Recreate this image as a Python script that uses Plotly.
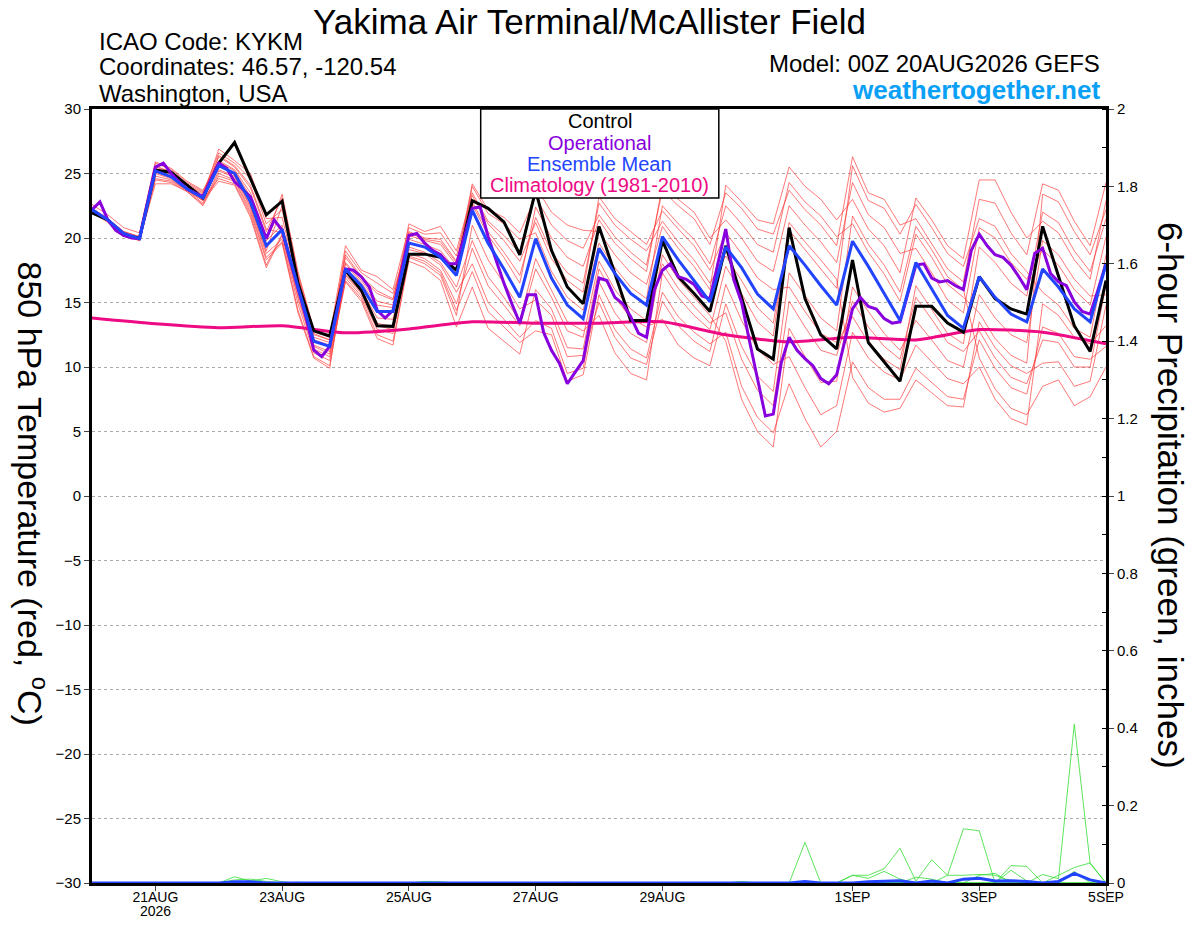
import pandas as pd
import plotly.graph_objects as go

# ---- data ----
# 6-hourly GEFS times, 3-hourly operational run, daily climatology
times_6h = pd.date_range("2026-08-20 00:00", "2026-09-05 00:00", freq="6h")
times_3h = pd.date_range("2026-08-20 00:00", "2026-09-05 00:00", freq="3h")
times_day = pd.date_range("2026-08-20", "2026-09-05", freq="D")

control = [21.95, 21.4, 20.2, 20.0, 25.25, 25.1, 24.1, 23.1, 25.8, 27.4, 24.6, 21.8, 22.85,
           16.5, 12.8, 12.4, 17.5, 15.95, 13.2, 13.15, 18.75, 18.75, 18.5, 17.5, 22.9, 22.3,
           21.25, 18.7, 23.7, 19.05, 16.2, 14.9, 20.9, 17.25, 13.6, 13.6, 19.8, 17.0, 15.7,
           14.3, 19.4, 15.4, 11.4, 10.6, 20.8, 15.3, 12.5, 11.4, 18.3, 11.9, 10.4, 8.9, 14.7,
           14.7, 13.4, 12.7, 17.0, 15.3, 14.5, 14.1, 20.9, 17.0, 13.2, 11.2, 16.7]

ens_mean = [22.2, 21.4, 20.35, 19.95, 25.2, 24.75, 23.8, 23.1, 25.6, 25.0, 22.8, 19.4, 20.65,
            16.2, 12.0, 11.6, 17.6, 16.3, 14.3, 14.3, 19.6, 19.3, 18.5, 17.1, 22.15, 19.6,
            17.6, 15.4, 19.95, 16.9, 14.8, 13.75, 19.2, 17.25, 15.7, 14.8, 20.1, 18.3, 16.7,
            15.05, 19.3, 17.7, 15.65, 14.5, 19.4, 17.9, 16.3, 14.8, 19.75, 17.8, 15.7, 13.6,
            18.1, 16.1, 14.0, 13.0, 17.0, 15.4, 14.1, 13.5, 17.6, 16.2, 14.5, 13.5, 18.0]

operational = [22.2, 22.8, 21.4, 20.6, 20.2, 20.0, 19.95, 22.6, 25.5, 25.8,
               25.0, 24.35, 23.8, 23.5, 23.2, 24.5, 25.8, 25.4, 24.35, 23.8,
               23.2, 21.6, 19.95, 21.4, 20.6, 18.3, 16.0, 13.9, 11.3, 10.8,
               11.6, 14.6, 17.6, 17.5, 17.0, 16.2, 14.4, 13.8, 14.4, 17.2,
               20.2, 20.35, 19.6, 19.05, 18.7, 18.0, 18.0, 20.1, 22.3, 22.4,
               20.1, 18.3, 16.5, 14.9, 13.4, 15.6, 15.6, 12.7, 11.3, 10.3,
               8.7, 9.6, 10.5, 13.8, 16.9, 16.7, 15.4, 14.9, 13.9, 12.6,
               12.3, 16.0, 17.5, 18.0, 17.0, 16.8, 16.4, 15.5, 15.3, 18.0,
               20.7, 16.8, 15.0, 12.0, 9.1, 6.2, 6.35, 10.3, 12.3, 11.3,
               10.65, 10.1, 9.1, 8.7, 9.4, 11.95, 14.5, 15.4, 14.7, 14.5,
               13.75, 13.4, 13.5, 15.7, 17.9, 18.0, 16.9, 16.6, 16.7, 16.3,
               16.0, 19.05, 20.3, 19.4, 18.7, 18.5, 17.9, 17.0, 16.0, 18.8,
               19.2, 17.25, 16.6, 16.3, 15.05, 14.3, 14.1, 16.0, 18.0]

climatology = [13.8, 13.35, 13.05, 13.2, 12.65, 12.95, 13.5, 13.4, 13.4, 13.5, 12.5,
               11.95, 12.3, 12.1, 12.9, 12.7, 11.8]

# ensemble members (temperature, 6-hourly)
m01 = [22.3, 21.5, 20.5, 20.1, 25.6, 25.1, 24.2, 23.5, 26.6, 25.8, 24.6, 21.1, 22.2, 16.9, 12.5, 12.1,
       18.7, 17.0, 15.9, 15.3, 20.2, 19.8, 19.5, 17.9, 24.2, 22.2, 21.6, 20.4, 23.2, 21.0, 19.8, 19.2,
       21.8, 20.1, 18.9, 17.9, 23.7, 22.5, 21.5, 19.5, 23.5, 22.3, 20.7, 20.3, 23.7, 22.2, 21.0, 19.4,
       26.3, 23.5, 23.0, 21.0, 21.5, 19.6, 17.6, 16.6, 23.0, 22.7, 20.4, 18.7, 24.2, 23.7, 21.3, 19.4, 24.3]
m02 = [22.1, 21.3, 20.2, 19.8, 24.5, 24.3, 23.6, 22.6, 25.0, 24.5, 22.2, 18.5, 19.7, 14.4, 10.8, 10.1,
       17.2, 15.8, 13.4, 13.1, 18.6, 18.2, 17.3, 14.4, 17.4, 14.3, 13.1, 11.9, 12.8, 12.5, 8.9, 9.4,
       15.6, 12.9, 11.4, 10.7, 15.8, 13.9, 12.7, 11.8, 12.7, 8.5, 6.1, 4.9, 8.7, 6.0, 3.8, 5.0,
       10.4, 8.4, 7.5, 7.5, 9.9, 8.8, 7.7, 7.5, 12.1, 9.9, 8.4, 7.9, 13.1, 12.6, 10.8, 10.6, 11.6]
m03 = [22.2, 21.4, 20.4, 20.0, 25.4, 24.9, 23.9, 23.2, 26.0, 25.3, 23.5, 20.0, 23.4, 17.4, 12.9, 12.4,
       19.4, 17.5, 17.0, 16.0, 20.8, 20.3, 20.4, 18.6, 23.3, 21.1, 19.8, 18.2, 21.2, 18.4, 16.7, 15.8,
       23.2, 21.5, 20.5, 19.5, 22.1, 20.7, 19.4, 17.5, 20.4, 18.8, 16.9, 16.0, 16.2, 14.3, 12.6, 11.9,
       13.9, 11.9, 10.6, 9.8, 16.3, 14.5, 12.6, 11.8, 19.3, 18.1, 16.5, 15.5, 22.0, 21.2, 19.0, 17.4, 21.5]
m04 = [22.2, 21.4, 20.3, 19.9, 25.0, 24.6, 23.7, 22.9, 24.4, 24.1, 21.6, 17.7, 20.2, 15.3, 11.4, 10.8,
       16.7, 15.3, 12.5, 12.0, 18.2, 17.7, 16.7, 13.1, 16.2, 13.0, 12.0, 11.0, 16.0, 14.5, 11.5, 11.4,
       17.6, 15.4, 13.8, 13.1, 13.7, 11.7, 10.7, 10.1, 14.9, 11.6, 9.3, 8.1, 17.3, 15.5, 13.8, 12.8,
       21.7, 19.5, 17.9, 15.8, 20.9, 19.1, 17.0, 16.0, 10.7, 8.3, 6.8, 6.3, 8.5, 9.0, 7.0, 7.7, 10.0]
m05 = [22.6, 21.8, 20.8, 20.4, 25.9, 25.4, 24.4, 23.7, 25.9, 25.2, 23.2, 19.8, 21.0, 16.3, 12.1, 11.7,
       18.1, 16.7, 15.1, 14.8, 21.1, 20.5, 20.9, 19.0, 23.5, 21.3, 20.2, 18.8, 24.0, 22.0, 21.0, 20.6,
       20.5, 18.7, 17.3, 16.4, 20.9, 19.2, 17.8, 16.0, 24.1, 22.8, 21.4, 21.1, 25.5, 24.0, 23.0, 21.4,
       23.0, 20.7, 19.4, 17.3, 23.1, 21.4, 19.4, 18.4, 24.5, 24.5, 22.0, 20.0, 21.3, 20.4, 18.3, 16.8, 22.9]
m06 = [22.0, 21.2, 20.2, 19.8, 24.8, 24.5, 23.7, 22.9, 26.4, 25.6, 24.1, 20.7, 20.4, 15.8, 11.7, 11.2,
       17.1, 15.7, 13.2, 12.9, 19.3, 18.9, 18.1, 16.2, 19.8, 17.0, 15.4, 13.6, 18.4, 15.9, 13.5, 12.8,
       14.0, 11.1, 9.5, 9.0, 17.3, 15.4, 14.0, 12.9, 17.8, 15.7, 13.5, 12.4, 21.2, 19.7, 18.3, 16.8,
       9.2, 7.2, 6.5, 6.8, 9.0, 8.0, 7.0, 6.9, 13.5, 11.5, 10.1, 9.5, 10.3, 10.4, 8.5, 8.9, 14.8]
m07 = [22.3, 21.5, 20.4, 20.0, 25.8, 25.3, 24.3, 23.6, 25.3, 24.8, 22.5, 19.0, 22.5, 17.0, 12.6, 12.1,
       18.0, 16.5, 14.8, 14.6, 20.4, 19.9, 19.7, 18.1, 22.6, 20.2, 18.5, 16.5, 22.4, 20.0, 18.5, 17.8,
       21.4, 19.6, 18.4, 17.4, 24.1, 23.0, 22.0, 20.0, 21.4, 20.0, 18.2, 17.4, 22.5, 21.0, 19.7, 18.1,
       24.3, 21.8, 20.8, 18.8, 19.2, 17.3, 15.2, 14.2, 20.8, 20.0, 18.1, 16.8, 19.1, 17.9, 16.0, 14.8, 20.1]
m08 = [22.2, 21.4, 20.3, 19.9, 24.2, 24.2, 23.6, 22.5, 24.8, 24.4, 22.0, 18.3, 19.6, 14.2, 10.7, 9.9,
       17.4, 16.0, 13.8, 13.7, 19.1, 18.8, 17.9, 15.8, 18.0, 15.0, 13.7, 12.3, 13.6, 13.0, 9.5, 9.9,
       16.6, 14.2, 12.6, 11.9, 18.7, 16.8, 15.4, 14.0, 12.0, 7.5, 5.0, 3.8, 13.0, 10.8, 8.8, 8.9,
       16.2, 14.3, 12.6, 11.3, 13.6, 12.1, 10.5, 10.0, 15.6, 13.8, 12.5, 11.9, 19.8, 18.7, 16.8, 15.5, 15.6]
m09 = [22.1, 21.3, 20.3, 19.9, 25.3, 24.8, 23.9, 23.2, 26.9, 26.0, 25.0, 21.5, 21.6, 16.6, 12.3, 11.9,
       19.0, 17.3, 16.5, 15.7, 19.9, 19.5, 19.0, 17.5, 24.0, 21.9, 21.1, 19.9, 20.4, 17.4, 15.4, 14.4,
       19.6, 17.7, 16.2, 15.3, 22.5, 21.1, 19.9, 18.0, 22.5, 21.1, 19.5, 18.9, 24.3, 22.8, 21.7, 20.1,
       21.1, 18.9, 17.2, 15.1, 20.3, 18.5, 16.4, 15.4, 14.2, 12.2, 10.9, 10.3, 23.4, 22.8, 20.5, 18.7, 22.2]
m10 = [22.3, 21.5, 20.5, 20.1, 24.6, 24.4, 23.7, 22.7, 25.2, 24.7, 22.4, 18.8, 19.9, 14.9, 11.1, 10.5,
       16.6, 15.1, 12.2, 11.7, 18.5, 18.0, 17.1, 14.0, 21.0, 18.3, 16.5, 14.5, 15.2, 14.0, 10.8, 10.9,
       15.0, 12.3, 10.7, 10.2, 15.1, 13.2, 12.0, 11.2, 16.4, 13.6, 11.4, 10.2, 10.8, 8.4, 6.3, 7.0,
       12.7, 10.7, 9.6, 9.0, 11.7, 10.4, 9.1, 8.7, 10.0, 7.5, 6.0, 5.5, 14.9, 14.0, 12.3, 11.8, 13.2]
m11 = [22.1, 21.3, 20.3, 19.9, 25.5, 25.1, 24.1, 23.4, 26.3, 25.5, 23.9, 20.5, 23.1, 17.2, 12.8, 12.3,
       18.5, 16.9, 15.7, 15.2, 20.5, 20.0, 19.9, 18.2, 22.8, 20.5, 18.9, 17.1, 21.6, 18.9, 17.3, 16.5,
       22.7, 21.0, 19.9, 19.0, 21.3, 19.7, 18.3, 16.5, 18.6, 16.7, 14.6, 13.4, 20.6, 19.1, 17.6, 16.1,
       25.6, 22.9, 22.3, 20.3, 22.6, 20.8, 18.8, 17.8, 21.5, 20.9, 18.8, 17.4, 15.8, 14.8, 13.0, 12.3, 18.7]
m12 = [22.2, 21.4, 20.4, 20.0, 25.1, 24.7, 23.8, 23.0, 24.6, 24.2, 21.8, 17.9, 20.3, 15.5, 11.6, 11.0,
       16.9, 15.5, 12.9, 12.6, 18.8, 18.4, 17.5, 14.9, 19.2, 16.3, 14.8, 13.2, 17.6, 15.4, 12.8, 12.3,
       18.2, 16.0, 14.5, 13.6, 18.0, 16.1, 14.7, 13.4, 14.2, 10.6, 8.2, 7.0, 15.1, 13.1, 11.3, 10.9,
       15.1, 13.1, 11.6, 10.6, 15.4, 13.7, 11.9, 11.2, 12.8, 10.7, 9.2, 8.7, 12.1, 11.9, 10.0, 10.0, 16.4]
members = [m01, m02, m03, m04, m05, m06, m07, m08, m09, m10, m11, m12]

# 6-hour precipitation, inches (members that show any precip, and the ensemble mean)
pr01 = [0, 0, 0, 0, 0, 0, 0, 0, 0, 0, 0, 0, 0, 0, 0, 0, 0, 0, 0, 0, 0, 0, 0, 0, 0, 0, 0, 0, 0, 0,
        0, 0, 0, 0, 0, 0, 0, 0, 0, 0, 0, 0, 0, 0, 0, 0.105, 0, 0, 0, 0, 0, 0, 0, 0, 0, 0, 0, 0, 0, 0,
        0, 0, 0, 0, 0]
pr02 = [0, 0, 0, 0, 0, 0, 0, 0, 0, 0, 0, 0, 0, 0, 0, 0, 0, 0, 0, 0, 0, 0, 0, 0, 0, 0, 0, 0, 0, 0,
        0, 0, 0, 0, 0, 0, 0, 0, 0, 0, 0, 0, 0, 0, 0, 0, 0, 0, 0.02, 0.02, 0.037, 0.09, 0.005, 0.06,
        0.02, 0.02, 0.022, 0.02, 0.005, 0, 0, 0, 0, 0, 0]
pr03 = [0, 0, 0, 0, 0, 0, 0, 0, 0, 0, 0, 0, 0, 0, 0, 0, 0, 0, 0, 0, 0, 0, 0, 0, 0, 0, 0, 0, 0, 0,
        0, 0, 0, 0, 0, 0, 0, 0, 0, 0, 0, 0, 0, 0, 0, 0, 0, 0, 0, 0, 0, 0, 0, 0, 0.02, 0.14, 0.135,
        0, 0.045, 0.043, 0, 0, 0, 0, 0]
pr04 = [0, 0, 0, 0, 0, 0, 0, 0, 0, 0, 0, 0, 0, 0, 0, 0, 0, 0, 0, 0, 0, 0, 0, 0, 0, 0, 0, 0, 0, 0,
        0, 0, 0, 0, 0, 0, 0, 0, 0, 0, 0, 0, 0, 0, 0, 0, 0, 0, 0, 0, 0, 0, 0, 0, 0, 0, 0, 0, 0, 0,
        0.022, 0.011, 0.41, 0.05, 0]
pr05 = [0, 0, 0, 0, 0, 0, 0, 0, 0, 0.016, 0.005, 0.012, 0.003, 0, 0, 0, 0, 0, 0, 0, 0, 0, 0, 0,
        0, 0, 0, 0, 0, 0, 0, 0, 0, 0, 0, 0, 0, 0, 0, 0, 0, 0, 0, 0, 0, 0, 0, 0, 0.02, 0.012, 0.03,
        0.01, 0, 0, 0, 0, 0, 0, 0.033, 0.005, 0, 0.02, 0.04, 0.052, 0]
pr06 = [0, 0, 0, 0, 0, 0, 0, 0, 0, 0.008, 0.01, 0.004, 0, 0.002, 0, 0, 0, 0, 0, 0, 0, 0.004, 0.003,
        0, 0, 0, 0, 0, 0, 0, 0.002, 0, 0, 0, 0, 0, 0, 0, 0, 0, 0, 0.004, 0, 0, 0, 0, 0, 0, 0, 0, 0,
        0, 0.015, 0.01, 0, 0, 0.02, 0.025, 0, 0, 0, 0, 0.03, 0, 0]
precip_members = [pr01, pr02, pr03, pr04, pr05, pr06]
precip_mean = [0, 0, 0, 0, 0, 0, 0, 0, 0, 0.003, 0.003, 0, 0, 0, 0, 0, 0, 0, 0, 0, 0, 0, 0, 0, 0,
               0, 0, 0, 0, 0, 0, 0, 0, 0, 0, 0, 0, 0, 0, 0, 0, 0, 0, 0, 0, 0.004, 0, 0, 0, 0.003,
               0.004, 0.006, 0, 0.005, 0, 0.01, 0.012, 0.005, 0.006, 0.004, 0, 0.004, 0.025, 0.008, 0]

tick_dates = ["2026-08-21", "2026-08-23", "2026-08-25", "2026-08-27", "2026-08-29",
              "2026-09-01", "2026-09-03", "2026-09-05"]
tick_text = ["21AUG", "23AUG", "25AUG", "27AUG", "29AUG", "1SEP", "3SEP", "5SEP"]
year_label = "2026"

legend_labels = ["Control", "Operational", "Ensemble Mean", "Climatology (1981-2010)"]
legend_colors = ["black", "#8800dd", "#2244ff", "#ee0a84"]

# ---- figure ----
FONT = "Liberation Sans, Arial, sans-serif"

# the reference is laid out in page pixels; convert to paper coordinates of the plot area
def px(x):
    return (x - 92.5) / (1106 - 92.5)

def py(y):
    return (883 - y) / (883 - 109)

fig = go.Figure()

for m in members:
    fig.add_trace(go.Scatter(x=times_6h, y=m, mode="lines",
                             line=dict(color="rgba(255,55,55,0.85)", width=0.8)))

for p in precip_members:
    fig.add_trace(go.Scatter(x=times_6h, y=p, mode="lines", yaxis="y2",
                             line=dict(color="#33dd33", width=0.8)))
fig.add_trace(go.Scatter(x=times_6h, y=precip_mean, mode="lines", yaxis="y2",
                         line=dict(color="#2244ff", width=3)))

fig.add_trace(go.Scatter(x=times_day, y=climatology, mode="lines",
                         line=dict(color="#ee0a84", width=3, shape="spline", smoothing=0.6)))
fig.add_trace(go.Scatter(x=times_6h, y=control, mode="lines",
                         line=dict(color="black", width=3)))
fig.add_trace(go.Scatter(x=times_3h, y=operational, mode="lines",
                         line=dict(color="#8800dd", width=3)))
fig.add_trace(go.Scatter(x=times_6h, y=ens_mean, mode="lines",
                         line=dict(color="#2244ff", width=3)))

fig.update_layout(
    width=1184, height=911,
    margin=dict(l=84, r=86, t=101, b=36),
    paper_bgcolor="white", plot_bgcolor="white",
    showlegend=False,
    font=dict(family=FONT, color="black", size=15),
    xaxis=dict(type="date", range=["2026-08-20 00:00", "2026-09-05 00:00"],
               tickvals=tick_dates, ticktext=tick_text, ticks="outside", ticklen=5,
               tickwidth=1, showline=True, linewidth=3, linecolor="black", mirror=True,
               showgrid=False, zeroline=False, tickfont=dict(size=14), automargin=False,
               ticklabelstandoff=-6),
    yaxis=dict(range=[-30, 30], dtick=5, ticks="outside", ticklen=5, showline=True,
               linewidth=3, linecolor="black", showgrid=True, gridcolor="#aaaaaa",
               griddash="dot", gridwidth=1, zeroline=False, tickfont=dict(size=15),
               automargin=False),
    yaxis2=dict(range=[0, 2], dtick=0.2, overlaying="y", side="right", ticks="outside",
                ticklen=5, showline=True, linewidth=3, linecolor="black", showgrid=False,
                zeroline=False, tickfont=dict(size=15), automargin=False,
                minor=dict(ticks="inside", dtick=0.1, ticklen=4, tickcolor="black")),
)

ann = [
    dict(text="Yakima Air Terminal/McAllister Field", x=px(590), y=py(21), size=35),
    dict(text="ICAO Code: KYKM", x=px(97), y=py(41), size=24, xanchor="left"),
    dict(text="Coordinates: 46.57, -120.54", x=px(97), y=py(67), size=24, xanchor="left"),
    dict(text="Washington, USA", x=px(97), y=py(93), size=24, xanchor="left"),
    dict(text="Model: 00Z 20AUG2026 GEFS", x=px(1102), y=py(64), size=24, xanchor="right"),
    dict(text="<b>weathertogether.net</b>", x=px(1102), y=py(90), size=26, xanchor="right",
         color="#0aa0f5"),
    dict(text="850 hPa Temperature (red, <sup>o</sup>C)", x=px(34), y=py(494), size=34,
         angle=90),
    dict(text="6-hour Precipitation (green, inches)", x=px(1170), y=py(495), size=35,
         angle=90),
    dict(text=year_label, x=px(156), y=py(911), size=14),
]
for a in ann:
    fig.add_annotation(text=a["text"], xref="paper", yref="paper", x=a["x"], y=a["y"],
                       xanchor=a.get("xanchor", "center"), yanchor="middle",
                       textangle=a.get("angle", 0), showarrow=False,
                       font=dict(family=FONT, size=a["size"], color=a.get("color", "black")))

# legend box in the top middle of the plot
fig.add_shape(type="rect", xref="paper", yref="paper", x0=px(481), x1=px(719),
              y0=py(198), y1=py(109), line=dict(color="black", width=1.5),
              fillcolor="white", layer="above")
for k, (lab, col) in enumerate(zip(legend_labels, legend_colors)):
    fig.add_annotation(text=lab, xref="paper", yref="paper", x=px(600), y=py(121 + 21.5 * k),
                       xanchor="center", yanchor="middle", showarrow=False,
                       font=dict(family=FONT, size=20, color=col))

fig.write_html("out.html")
